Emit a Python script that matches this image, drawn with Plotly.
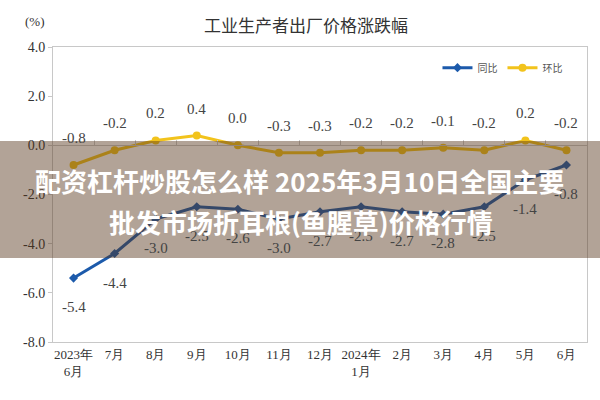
import plotly.graph_objects as go

categories = ["2023年<br>6月", "7月", "8月", "9月", "10月", "11月", "12月",
              "2024年<br>1月", "2月", "3月", "4月", "5月", "6月"]
yoy = [-5.4, -4.4, -3.0, -2.5, -2.6, -3.0, -2.7, -2.5, -2.7, -2.8, -2.5, -1.4, -0.8]
mom = [-0.8, -0.2, 0.2, 0.4, 0.0, -0.3, -0.3, -0.2, -0.2, -0.1, -0.2, 0.2, -0.2]
y_ticks = [4.0, 2.0, 0.0, -2.0, -4.0, -6.0, -8.0]

BLUE = "#1c5aab"
YELLOW = "#f2c31c"
SERIF = "Liberation Serif"

fig = go.Figure()
fig.add_trace(go.Scatter(x=categories, y=yoy, name="同比", mode="lines+markers",
                         line=dict(color=BLUE, width=3),
                         marker=dict(symbol="diamond", size=7, color=BLUE)))
fig.add_trace(go.Scatter(x=categories, y=mom, name="环比", mode="lines+markers",
                         xaxis="x2",
                         line=dict(color=YELLOW, width=3),
                         marker=dict(symbol="circle", size=8, color=YELLOW)))

for c, v in zip(categories, mom):
    fig.add_annotation(x=c, y=v, xref="x2", yref="y", text=f"{v:.1f}", showarrow=False,
                       yshift=27, font=dict(family=SERIF, size=15, color="#444"))
for c, v in zip(categories, yoy):
    fig.add_annotation(x=c, y=v, xref="x", yref="y", text=f"{v:.1f}", showarrow=False,
                       yshift=-29, font=dict(family=SERIF, size=15, color="#444"))

fig.add_annotation(text="(%)", xref="paper", yref="paper", x=-0.034, y=1.085,
                   xanchor="center", yanchor="middle",
                   showarrow=False, font=dict(family=SERIF, size=13, color="#333"))

# overlay banner
fig.add_shape(type="rect", xref="paper", yref="paper", x0=-0.2, x1=1.2,
              y0=0.285, y1=0.681, fillcolor="rgba(85,50,25,0.45)", line=dict(width=0),
              layer="above")
fig.add_annotation(text="<b>配资杠杆炒股怎么样 2025年3月10日全国主要</b>", xref="paper", yref="paper",
                   x=0.4625, y=0.546, xanchor="center", yanchor="middle", showarrow=False,
                   font=dict(family="Noto Sans CJK SC", size=26, color="white"))
fig.add_annotation(text="<b>批发市场折耳根(鱼腥草)价格行情</b>", xref="paper", yref="paper",
                   x=0.4645, y=0.41, xanchor="center", yanchor="middle", showarrow=False,
                   font=dict(family="Noto Sans CJK SC", size=26, color="white"))

fig.update_layout(
    width=600, height=400,
    margin=dict(l=53, r=13, t=47, b=58),
    paper_bgcolor="white", plot_bgcolor="white",
    title=dict(text="工业生产者出厂价格涨跌幅", x=0.51, xanchor="center", y=0.935, yanchor="middle",
               font=dict(family="Noto Sans CJK SC", size=17, color="#333")),
    showlegend=True,
    legend=dict(orientation="h", x=0.72, y=0.93, xanchor="left", yanchor="middle",
                font=dict(family="Noto Sans CJK SC", size=10, color="#555"),
                bgcolor="rgba(0,0,0,0)", itemwidth=30, tracegroupgap=0),
    xaxis=dict(type="category", range=[-0.5, 12.5], showgrid=False, zeroline=False,
               showline=True, linecolor="#c8c8c8", linewidth=1, mirror=True, ticks="",
               tickfont=dict(family=SERIF, size=13, color="#333")),
    xaxis2=dict(type="category", overlaying="x", matches="x", anchor="free", position=2/3,
                showline=True, linecolor="#c8c8c8", linewidth=1, ticks="inside",
                tickson="boundaries", ticklen=5, tickcolor="#c8c8c8",
                showticklabels=False, showgrid=False, zeroline=False),
    yaxis=dict(range=[-8, 4], tickvals=y_ticks, ticktext=[f"{t:.1f}" for t in y_ticks],
               showgrid=False, zeroline=False, showline=True, linecolor="#c8c8c8",
               mirror=True, ticks="outside", ticklen=4, tickcolor="#c8c8c8",
               tickfont=dict(family=SERIF, size=14, color="#333")),
)

fig.write_html("out.html")
